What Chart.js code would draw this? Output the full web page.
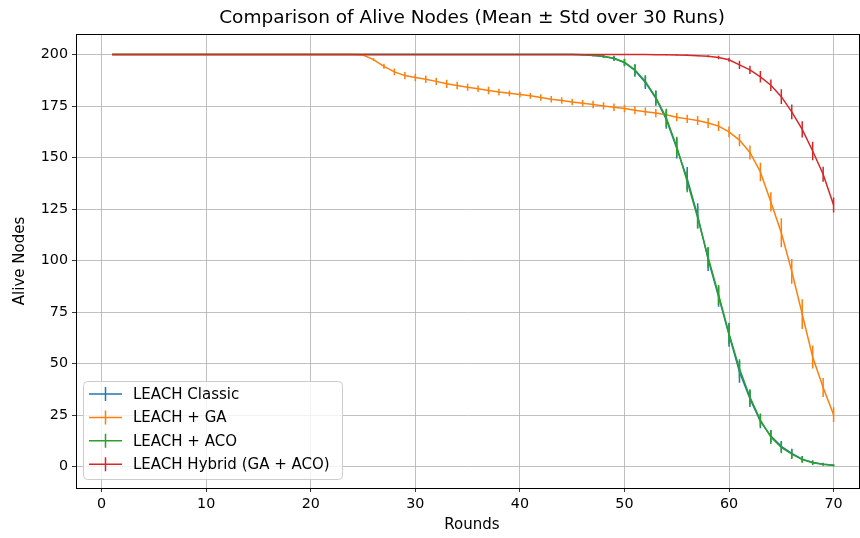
<!DOCTYPE html>
<html>
<head>
<meta charset="utf-8">
<script src="https://cdn.jsdelivr.net/npm/chart.js@4.4.1/dist/chart.umd.min.js"></script>
<style>
  html, body { margin: 0; padding: 0; background: #fff; }
  #wrap { width: 860px; height: 538px; }
</style>
</head>
<body>
<div id="wrap"><canvas id="myChartNodes" width="860" height="538"></canvas></div>
<script>
// Rounds 1..70
const rounds = [1,2,3,4,5,6,7,8,9,10,11,12,13,14,15,16,17,18,19,20,21,22,23,24,25,26,27,28,29,30,31,32,33,34,35,36,37,38,39,40,41,42,43,44,45,46,47,48,49,50,51,52,53,54,55,56,57,58,59,60,61,62,63,64,65,66,67,68,69,70];
const xTicks = [0, 10, 20, 30, 40, 50, 60, 70];
const yTicks = [0, 25, 50, 75, 100, 125, 150, 175, 200];

// LEACH Classic
const classicMean = [200,200,200,200,200,200,200,200,200,200,200,200,200,200,200,200,200,200,200,200,200,200,200,200,200,200,200,200,200,200,200,200,200,200,200,200,200,200,200,200,200,200,200,200,
  200,199.9,199.6,199.1,198.1,196.1,192.3,186.5,178.8,168.5,154.5,139.8,121.8,100.6,82.6,64.0,46.0,33.0,22.0,14.8,9.8,6.4,3.6,2.0,1.1,0.6];
const classicStd = [0,0,0,0,0,0,0,0,0,0,0,0,0,0,0,0,0,0,0,0,0,0,0,0,0,0,0,0,0,0,0,0,0,0,0,0,0,0,0,0,0,0,0,0,
  0.1,0.2,0.4,0.7,1.1,1.8,3.0,3.2,3.6,4.5,5.0,5.6,6.0,5.6,5.0,5.8,5.3,4.1,3.4,3.0,2.6,2.2,1.5,1.0,0.6,0.4];

// LEACH + GA
const gaMean = [200,200,200,200,200,200,200,200,200,200,200,200,200,200,200,200,200,200,200,200,200,200,200,200,
  199.8,197.6,194.3,191.6,189.8,188.9,188.0,187.0,185.8,185.0,184.2,183.4,182.6,181.8,181.2,180.6,180.0,179.2,178.3,177.7,177.0,176.4,175.8,175.1,174.4,173.8,173.0,172.3,171.6,170.8,169.6,168.8,168.0,166.8,165.3,162.5,158.5,152.5,143.0,128.5,113.5,94.8,74.0,53.2,38.4,25.2];
const gaStd = [0,0,0,0,0,0,0,0,0,0,0,0,0,0,0,0,0,0,0,0,0,0,0,0,
  0.2,0.6,1.2,1.6,1.8,1.8,1.8,1.8,2.0,1.8,1.8,1.6,1.8,1.6,1.4,1.4,1.4,1.6,1.6,1.6,1.6,1.6,1.8,1.8,1.8,1.8,2.0,2.0,2.0,2.0,2.0,2.0,2.2,2.4,2.4,2.6,3.0,3.4,4.5,4.7,7.0,6.0,7.2,5.6,4.6,3.6];

// LEACH + ACO
const acoMean = [200,200,200,200,200,200,200,200,200,200,200,200,200,200,200,200,200,200,200,200,200,200,200,200,200,200,200,200,200,200,200,200,200,200,200,200,200,200,200,200,200,200,200,200,
  200,199.9,199.7,199.2,198.2,196.3,192.6,187.0,179.2,169.3,155.3,138.4,120.8,101.6,83.4,64.5,47.5,33.8,22.6,14.3,9.3,6.1,3.4,1.9,1.1,0.6];
const acoStd = [0,0,0,0,0,0,0,0,0,0,0,0,0,0,0,0,0,0,0,0,0,0,0,0,0,0,0,0,0,0,0,0,0,0,0,0,0,0,0,0,0,0,0,0,
  0.1,0.3,0.5,0.8,1.2,1.7,2.6,3.0,3.4,4.4,4.8,5.2,5.4,5.0,4.8,5.0,4.6,3.8,3.2,3.4,2.8,2.4,1.6,1.1,0.7,0.4];

// LEACH Hybrid (GA + ACO)
const hybridMean = [200,200,200,200,200,200,200,200,200,200,200,200,200,200,200,200,200,200,200,200,200,200,200,200,200,200,200,200,200,200,200,200,200,200,200,200,200,200,200,200,200,200,200,200,200,200,200,200,200,200,200,200,
  199.9,199.9,199.8,199.7,199.5,199.2,198.6,197.5,195.0,192.6,189.2,185.1,179.6,172.2,163.7,153.2,141.9,127.0];
const hybridStd = [0,0,0,0,0,0,0,0,0,0,0,0,0,0,0,0,0,0,0,0,0,0,0,0,0,0,0,0,0,0,0,0,0,0,0,0,0,0,0,0,0,0,0,0,0,0,0,0,0,0,0,0,
  0.1,0.2,0.2,0.3,0.3,0.5,0.8,1.0,2.0,2.0,2.8,2.8,3.6,3.6,4.0,4.5,3.6,3.6];

const series = [
  { label: 'LEACH Classic', mean: classicMean, std: classicStd, color: '#1f77b4' },
  { label: 'LEACH + GA', mean: gaMean, std: gaStd, color: '#ff7f0e' },
  { label: 'LEACH + ACO', mean: acoMean, std: acoStd, color: '#2ca02c' },
  { label: 'LEACH Hybrid (GA + ACO)', mean: hybridMean, std: hybridStd, color: '#d62728' }
];

const FONT = '"DejaVu Sans", sans-serif';

// error bars drawn right after each dataset line, like matplotlib errorbar
const errorBarPlugin = {
  id: 'errorBars',
  afterDatasetDraw(chart, args) {
    const s = series[args.index];
    const ctx = chart.ctx;
    const xs = chart.scales.x, ys = chart.scales.y;
    const area = chart.chartArea;
    ctx.save();
    ctx.beginPath();
    ctx.rect(area.left, area.top, area.right - area.left, area.bottom - area.top);
    ctx.clip();
    ctx.strokeStyle = s.color;
    ctx.lineWidth = 1.5;
    ctx.beginPath();
    rounds.forEach((r, i) => {
      if (!s.std[i]) return;
      const px = xs.getPixelForValue(r);
      ctx.moveTo(px, ys.getPixelForValue(s.mean[i] - s.std[i]));
      ctx.lineTo(px, ys.getPixelForValue(s.mean[i] + s.std[i]));
    });
    ctx.stroke();
    ctx.restore();
  }
};

// frame, titles and legend in matplotlib style
const decorPlugin = {
  id: 'decor',
  afterDraw(chart) {
    const ctx = chart.ctx;
    const a = chart.chartArea;
    ctx.save();
    ctx.strokeStyle = '#000';
    ctx.lineWidth = 1;
    ctx.strokeRect(Math.round(a.left) + 0.5, Math.round(a.top) + 0.5, Math.round(a.right - a.left), Math.round(a.bottom - a.top));

    ctx.fillStyle = '#000';
    ctx.textAlign = 'center';
    ctx.textBaseline = 'middle';
    ctx.font = '18.5px ' + FONT;
    ctx.fillText('Comparison of Alive Nodes (Mean \u00b1 Std over 30 Runs)', 472, 18);
    ctx.font = '15px ' + FONT;
    ctx.fillText('Rounds', 472, 525);
    ctx.save();
    ctx.translate(20, 261);
    ctx.rotate(-Math.PI / 2);
    ctx.fillText('Alive Nodes', 0, 0);
    ctx.restore();

    // legend box
    const bx = 83, by = 381, bw = 259, bh = 98, r = 4;
    ctx.beginPath();
    ctx.roundRect(bx + 0.5, by + 0.5, bw, bh, r);
    ctx.fillStyle = 'rgba(255,255,255,0.8)';
    ctx.fill();
    ctx.strokeStyle = '#cccccc';
    ctx.stroke();

    ctx.textAlign = 'left';
    ctx.font = '15px ' + FONT;
    series.forEach((s, i) => {
      const y = 394 + i * 23.4;
      ctx.strokeStyle = s.color;
      ctx.lineWidth = 1.5;
      ctx.beginPath();
      ctx.moveTo(89, y);
      ctx.lineTo(122, y);
      ctx.moveTo(105.5, y - 7);
      ctx.lineTo(105.5, y + 7);
      ctx.stroke();
      ctx.fillStyle = '#000';
      ctx.fillText(s.label, 133, y + 1);
    });
    ctx.restore();
  }
};

function initializeChartAliveNodes() {
  const ctx = document.getElementById('myChartNodes').getContext('2d');
  const datasets = series.map((s, i) => ({
    label: s.label,
    data: rounds.map((r, j) => ({ x: r, y: s.mean[j] })),
    borderColor: s.color,
    backgroundColor: s.color,
    borderWidth: 1.5,
    pointRadius: 0,
    tension: 0,
    fill: false,
    order: series.length - i // later series on top
  }));

  new Chart(ctx, {
    type: 'line',
    data: { datasets: datasets },
    options: {
      responsive: false,
      animation: false,
      devicePixelRatio: 1,
      layout: { padding: { top: 34, right: 1, bottom: 0, left: 0 } },
      scales: {
        x: {
          type: 'linear',
          min: -2.45,
          max: 72.43,
          afterFit: (scale) => { scale.height = 50; },
          afterBuildTicks: (scale) => { scale.ticks = xTicks.map(v => ({ value: v })); },
          grid: { color: '#b0b0b0', lineWidth: 0.8, tickColor: '#000', tickLength: 4, drawTicks: true },
          border: { display: false },
          ticks: { color: '#000', padding: 4, font: { family: FONT, size: 14.3 }, maxRotation: 0, autoSkip: false }
        },
        y: {
          type: 'linear',
          min: -10.4,
          max: 210,
          afterFit: (scale) => { scale.width = 76; },
          afterBuildTicks: (scale) => { scale.ticks = yTicks.map(v => ({ value: v })); },
          grid: { color: '#b0b0b0', lineWidth: 0.8, tickColor: '#000', tickLength: 4, drawTicks: true },
          border: { display: false },
          ticks: { color: '#000', padding: 4, font: { family: FONT, size: 14.3 }, autoSkip: false }
        }
      },
      plugins: {
        legend: { display: false },
        title: { display: false },
        tooltip: { enabled: false }
      }
    },
    plugins: [errorBarPlugin, decorPlugin]
  });
}

initializeChartAliveNodes();
</script>
</body>
</html>
